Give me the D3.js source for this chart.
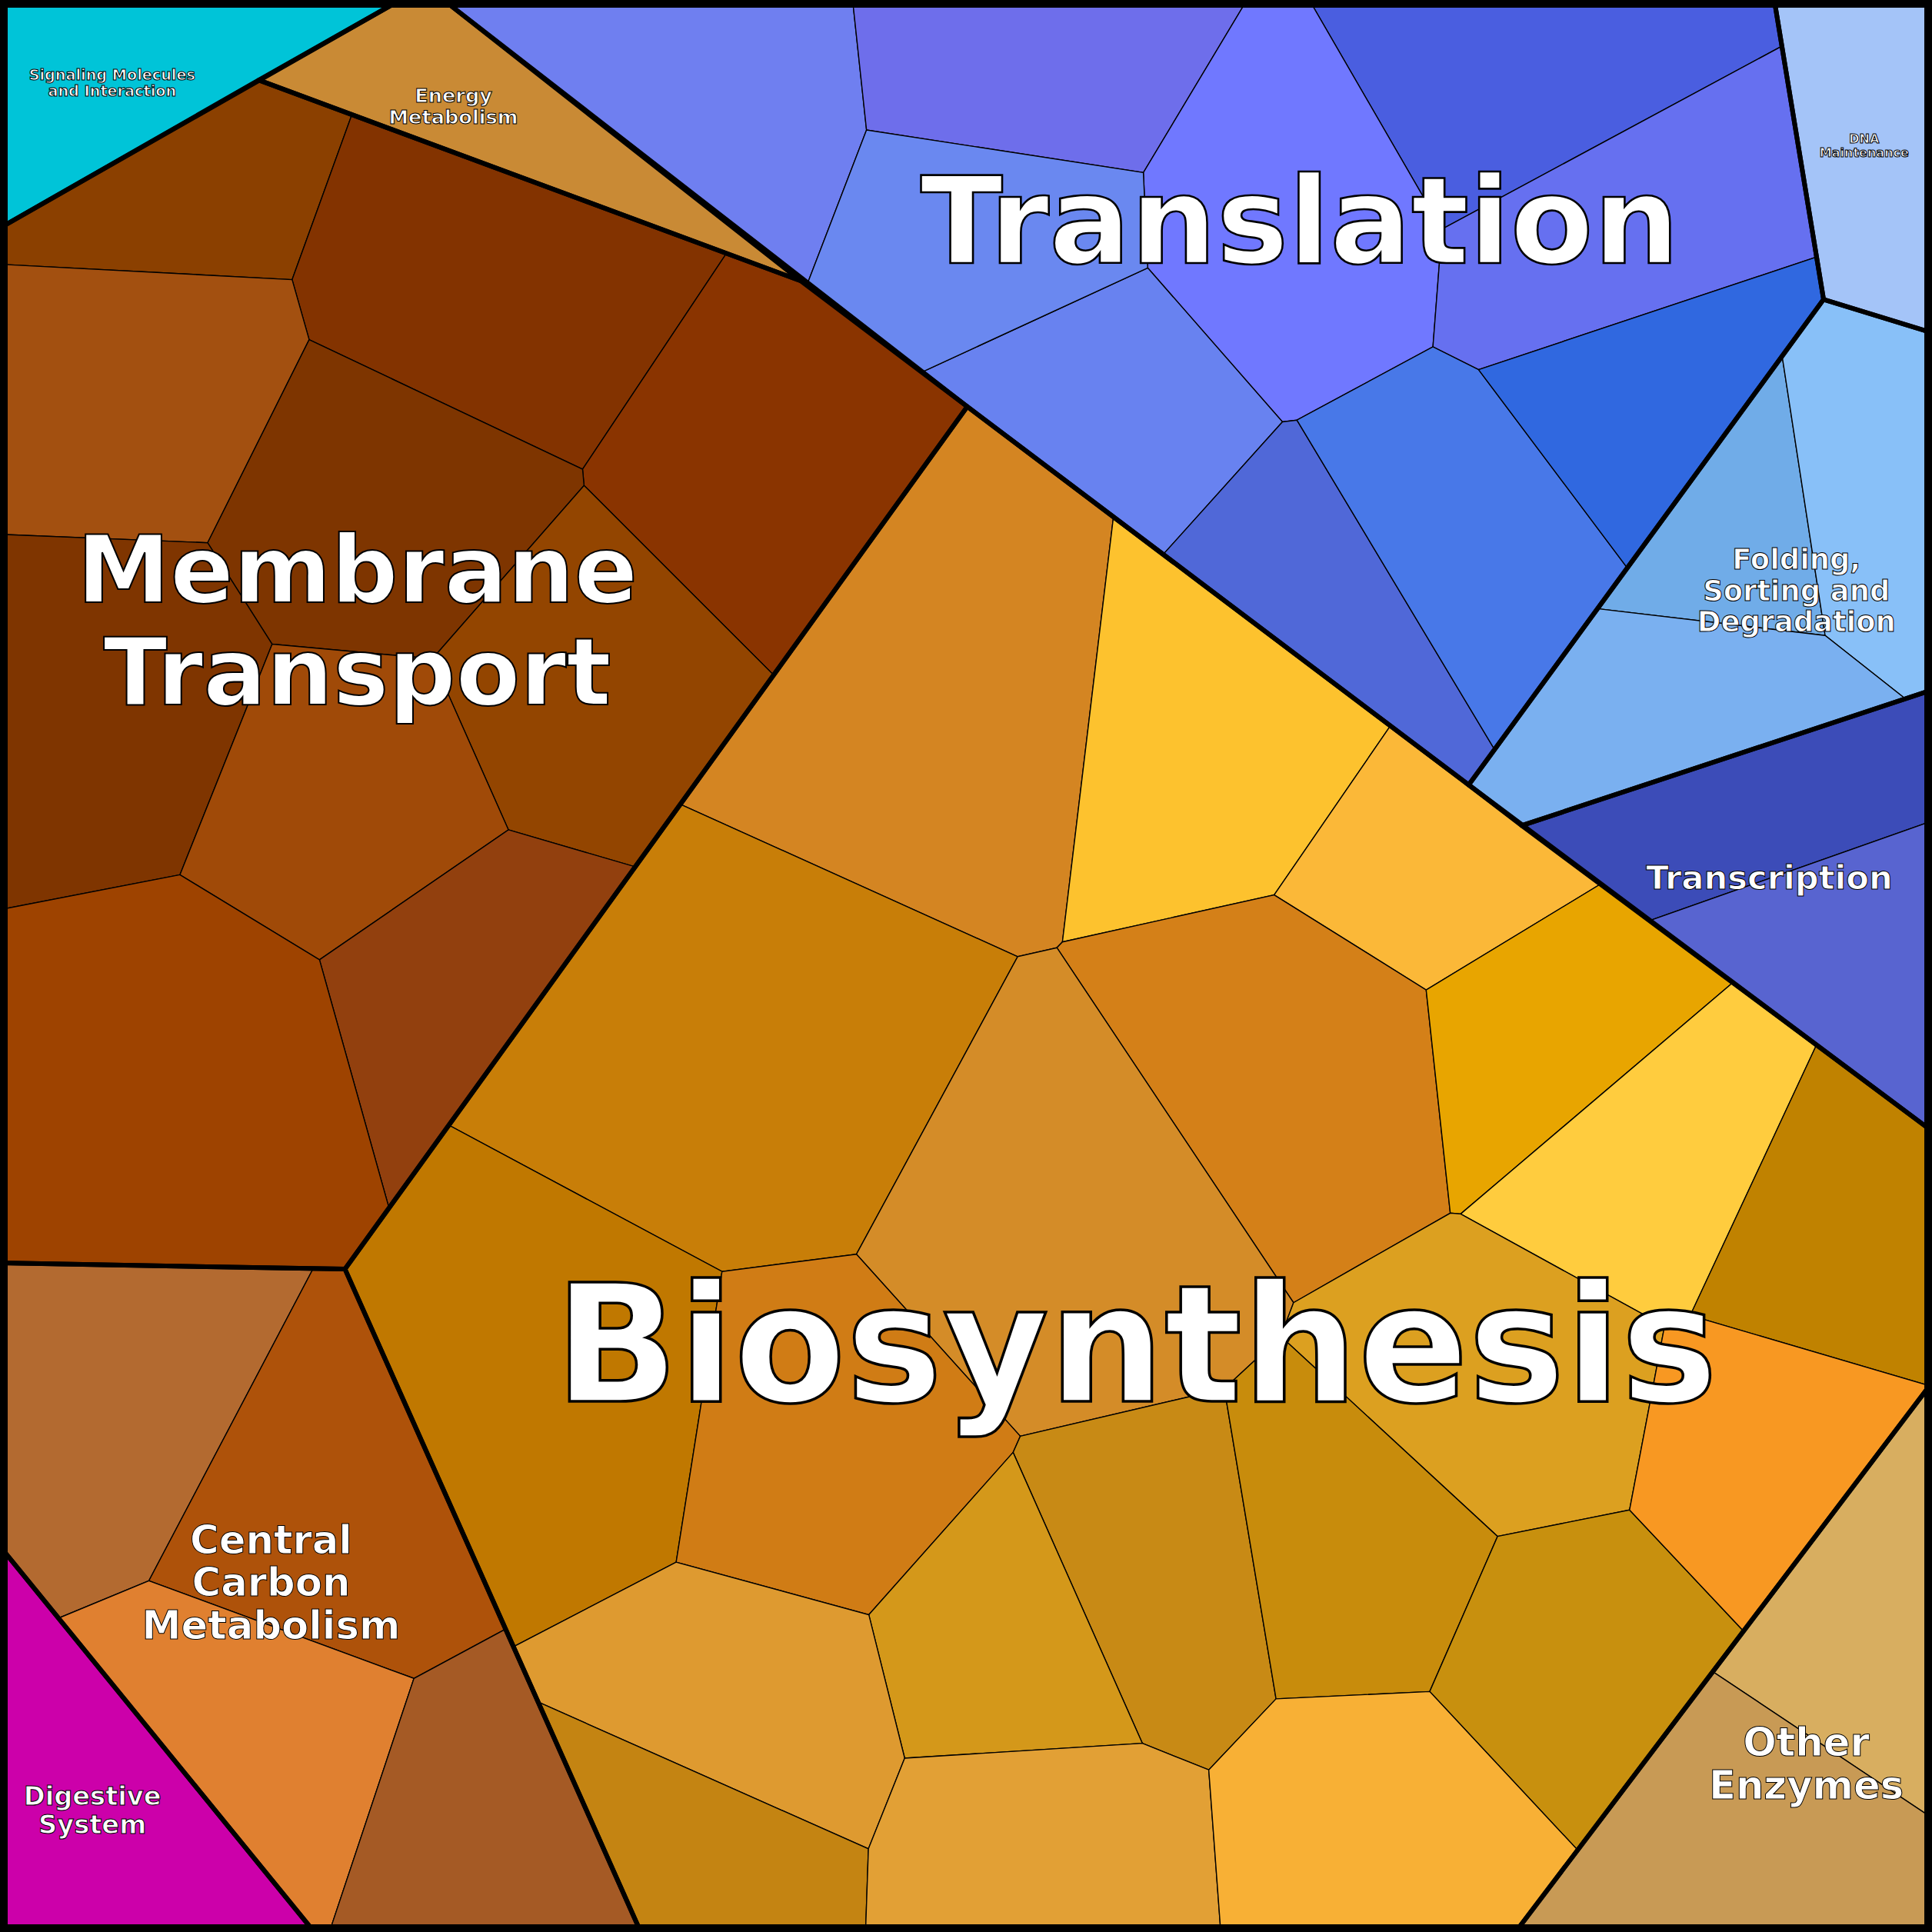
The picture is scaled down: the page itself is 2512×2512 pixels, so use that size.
<!DOCTYPE html>
<html lang="en">
<head>
<meta charset="utf-8">
<title>Voronoi treemap</title>
<script src="https://d3js.org/d3.v7.min.js"></script>
<style>body{margin:0;background:#fff}</style>
</head>
<body>
<svg id="chart" width="2512" height="2512"></svg>
<script>
// top level categories and their outline (in a 0..1568 data space)
var groupNames = ["Signaling Molecules and Interaction", "Energy Metabolism", "Membrane Transport",
  "Translation", "DNA Maintenance", "Folding, Sorting and Degradation", "Transcription",
  "Biosynthesis", "Other Enzymes", "Central Carbon Metabolism", "Digestive System"];
var groupColors = ["#00C4D8", "#C98A35", "#803400", "#6F7FF0", "#A4C4F8", "#80B8F0", "#4A58C8",
  "#D48522", "#D8AE60", "#AE520A", "#CC00AA"];
var groupOutlines = [
  [[0,0],[325,0],[0,185]],
  [[210,65],[325,0],[360,0],[650,228]],
  [[0,185],[210,65],[650,228],[785,330],[280,1030],[0,1025]],
  [[360,0],[1440,0],[1480,243],[1192,637],[785,330]],
  [[1440,0],[1568,0],[1568,270],[1480,243]],
  [[1480,243],[1568,270],[1568,560],[1235,670],[1192,637]],
  [[1235,670],[1568,560],[1568,918]],
  [[785,330],[1192,637],[1568,918],[1568,1122],[1230,1568],[520,1568],[280,1030]],
  [[1568,1122],[1568,1568],[1230,1568]],
  [[0,1025],[280,1030],[520,1568],[255,1568],[0,1255]],
  [[0,1255],[255,1568],[0,1568]]
];

// sub categories: group index, site, colour
var cellGroup = [2,2,2,2,2,2,2,2,2,2, 9,9,9,9,
  3,3,3,3,3,3,3,3,3,3, 5,5,5, 6,6,
  7,7,7,7,7,7,7,7,7,7,7,7,7,7,7,7,7,7,7,7,7, 8,8, 0,1,4,10];
var cellSites = [
  [110,125],[400,230],[100,315],[640,390],[310,420],[90,560],[470,560],[290,640],[400,800],[150,870],
  [80,1130],[270,1230],[200,1420],[410,1490],
  [560,90],[840,60],[1230,70],[1040,180],[1300,200],[880,320],[820,190],[1080,500],[1180,440],[1340,320],
  [1400,420],[1530,400],[1380,590],
  [1400,630],[1460,800],
  [760,560],[1010,590],[1170,700],[1070,860],[620,870],[1255,840],[1340,940],[470,1150],[860,1000],
  [660,1180],[1490,1010],[1230,1140],[930,1300],[1110,1270],[840,1340],[1270,1340],[600,1400],
  [560,1490],[850,1500],[1120,1480],[1440,1180],
  [1500,1300],[1380,1480],
  [120,80],[420,110],[1500,120],[80,1450]
];
var cellColors = [
  "#8B4000","#833300","#A35010","#8A3400","#7E3500","#7F3500","#934500","#A04A08","#92400E","#9E4300",
  "#B36A30","#AE520A","#E08030","#A55A25",
  "#6F7FF0","#6E6EEB","#4A5EE0","#7078FF","#6670F0","#6882F0","#6A88F0","#5068D8","#4878E8","#3068E0",
  "#70ACE8","#88C0F8","#7AB0F0",
  "#3C4CB8","#5864D0",
  "#D48522","#FDC22E","#FBB838","#D48018","#C87E08","#E8A500","#FFCC3E","#C07800","#D48C28",
  "#D07C15","#C08200","#DCA020","#C88A15","#C88C0C","#D4981A","#C8900E","#DE9A30",
  "#C48412","#E2A035","#F8B035","#F89822",
  "#D8AE60","#C89A55",
  "#00C4D8","#C98A35","#A4C4F8","#CC00AA"
];

// labels: text lines, centre, font size
var labelLines = [["Translation"],["Biosynthesis"],["Membrane","Transport"],["Central","Carbon","Metabolism"],
  ["Other","Enzymes"],["Folding,","Sorting and","Degradation"],["Transcription"],["Digestive","System"],
  ["Energy","Metabolism"],["Signaling Molecules","and Interaction"],["DNA","Maintenance"]];
var labelCentres = [[1055,178],[922,1090],[290,503],[220,1284],[1466,1431],[1458,479],[1436,712],
  [75,1469],[368,86],[91,67],[1513,118]];
var labelSizes = [98,132,76,32,32,23,27,21,16,12,10];

var svg = d3.select("#chart"),
    W = +svg.attr("width");
var x = d3.scaleLinear().domain([0, 1568]).range([0, W]),
    y = d3.scaleLinear().domain([0, 1568]).range([0, W]),
    k = W / 1568;
var line = d3.line().x(function (d) { return x(d[0]); }).y(function (d) { return y(d[1]); }).curve(d3.curveLinearClosed);

var defs = svg.append("defs");
var g = svg.append("g");

groupNames.forEach(function (name, gi) {
    defs.append("clipPath").attr("id", "clip" + gi)
        .append("path").attr("d", line(groupOutlines[gi]));
    var idx = d3.range(cellSites.length).filter(function (i) { return cellGroup[i] === gi; });
    var gg = g.append("g").attr("clip-path", "url(#clip" + gi + ")");
    gg.append("path").attr("d", line(groupOutlines[gi])).attr("fill", groupColors[gi]);
    var pts = idx.map(function (i) { return [x(cellSites[i][0]), y(cellSites[i][1])]; });
    var vor = d3.Delaunay.from(pts).voronoi([-10, -10, W + 10, W + 10]);
    idx.forEach(function (ci, j) {
        gg.append("path")
            .attr("d", vor.renderCell(j))
            .attr("fill", cellColors[ci])
            .attr("stroke", "#000")
            .attr("stroke-width", 1.4);
    });
});

g.selectAll(".outline")
    .data(groupOutlines)
    .enter().append("path")
    .attr("class", "outline")
    .attr("d", function (d) { return line(d); })
    .attr("fill", "none")
    .attr("stroke", "#000")
    .attr("stroke-width", 6)
    .attr("stroke-linejoin", "round");

svg.append("rect").attr("x", 5).attr("y", 5).attr("width", W - 10).attr("height", W - 10)
    .attr("fill", "none").attr("stroke", "#000").attr("stroke-width", 10);

labelLines.forEach(function (lines, i) {
    var fs = labelSizes[i] * k, lh = fs * 1.09;
    var t = svg.append("text")
        .attr("text-anchor", "middle")
        .attr("font-family", "DejaVu Sans")
        .attr("font-weight", "bold")
        .attr("font-size", fs)
        .attr("fill", "#fff")
        .attr("stroke", "#000")
        .attr("stroke-width", Math.max(1, fs / 60))
        .attr("paint-order", "fill");
    lines.forEach(function (s, j) {
        t.append("tspan")
            .attr("x", x(labelCentres[i][0]))
            .attr("y", y(labelCentres[i][1]) + (j - (lines.length - 1) / 2) * lh + fs * 0.36)
            .text(s);
    });
});
</script>
</body>
</html>
